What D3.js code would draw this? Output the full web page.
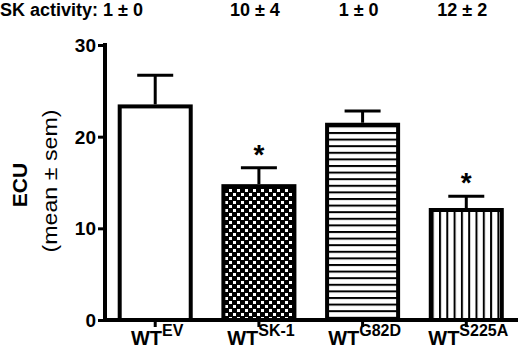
<!DOCTYPE html>
<html><head><meta charset="utf-8">
<script src="https://cdn.jsdelivr.net/npm/d3@7"></script>
<style>body{margin:0;background:#fff}svg{display:block}text{font-family:"Liberation Sans",Arial,sans-serif}</style>
</head><body>
<script>
const groups = ["EV","SK-1","G82D","S225A"];
const means = [23.3, 14.6, 21.3, 12.0];
const sems = [3.4, 2.0, 1.5, 1.5];
const skActivity = ["1 ± 0","10 ± 4","1 ± 0","12 ± 2"];
const significant = [false, true, false, true];
const patterns = ["none","checker","hlines","vlines"];
const yTicks = [0,10,20,30];

const W=520,H=348;
const svg=d3.select("body").append("svg").attr("width",W).attr("height",H);
const defs=svg.append("defs");
const pc=defs.append("pattern").attr("id","checker").attr("patternUnits","userSpaceOnUse").attr("width",8).attr("height",8);
pc.append("rect").attr("width",8).attr("height",8).attr("fill","#000");
pc.append("rect").attr("x",1).attr("y",1).attr("width",3).attr("height",3).attr("fill","#fff");
pc.append("rect").attr("x",5).attr("y",5).attr("width",3).attr("height",3).attr("fill","#fff");
const ph=defs.append("pattern").attr("id","hlines").attr("patternUnits","userSpaceOnUse").attr("width",8).attr("height",6.6);
ph.append("rect").attr("width",8).attr("height",6.6).attr("fill","#fff");
ph.append("rect").attr("y",0).attr("width",8).attr("height",2).attr("fill","#000");
const pv=defs.append("pattern").attr("id","vlines").attr("patternUnits","userSpaceOnUse").attr("width",7.3).attr("height",8).attr("x",1);
pv.append("rect").attr("width",7.3).attr("height",8).attr("fill","#fff");
pv.append("rect").attr("x",0).attr("width",2).attr("height",8).attr("fill","#000");

const y=d3.scaleLinear().domain([0,30]).range([320,45]);
const x=d3.scaleBand().domain(groups).range([100,521.5]).paddingInner(0.315).paddingOuter(0.19);

const g=svg.append("g");
groups.forEach((k,i)=>{
  const x0=x(k), bw=x.bandwidth(), cx=x0+bw/2;
  g.append("rect").attr("x",x0).attr("y",y(means[i])).attr("width",bw).attr("height",y(0)-y(means[i]))
   .attr("fill",patterns[i]==="none"?"#fff":`url(#${patterns[i]})`).attr("stroke","#000").attr("stroke-width",4);
  const top=y(means[i]+sems[i]);
  g.append("line").attr("x1",cx).attr("x2",cx).attr("y1",y(means[i])-2).attr("y2",top).attr("stroke","#000").attr("stroke-width",3);
  g.append("line").attr("x1",cx-18).attr("x2",cx+18).attr("y1",top).attr("y2",top).attr("stroke","#000").attr("stroke-width",3);
  if(significant[i]) g.append("text").attr("x",cx).attr("y",top-4).attr("text-anchor","middle")
     .attr("font-size",28).attr("font-weight","bold").text("*");
});

const ya=svg.append("g").attr("transform","translate(105,0)").call(d3.axisLeft(y).tickValues(yTicks).tickSize(7).tickPadding(2));
ya.select(".domain").attr("stroke-width",4).attr("d",`M0,${y(30)-2}V${y(0)+2}`);
ya.selectAll(".tick line").attr("stroke-width",3);
ya.selectAll(".tick text").attr("font-size",19).attr("font-weight","bold").attr("font-family","Liberation Sans, Arial").attr("fill","#000").attr("dy","0.35em");

const xa=svg.append("g").attr("transform","translate(0,320)").call(d3.axisBottom(x).tickSize(7).tickFormat(""));
xa.select(".domain").attr("stroke-width",4).attr("d","M103,0H518");
xa.selectAll(".tick line").attr("stroke-width",3);
groups.forEach((k,i)=>{
  const t=svg.append("text").attr("x",x(k)+x.bandwidth()/2+2).attr("y",345).attr("text-anchor","middle").attr("font-weight","bold");
  t.append("tspan").attr("font-size",20).text("WT");
  t.append("tspan").attr("font-size",16).attr("dy",-9).text(k);
});

svg.append("text").attr("x",0).attr("y",16).attr("font-size",18).attr("font-weight","bold").text("SK activity: "+skActivity[0]);
groups.forEach((k,i)=>{ if(i>0) svg.append("text").attr("x",x(k)+x.bandwidth()/2-4).attr("y",16).attr("text-anchor","middle")
  .attr("font-size",18).attr("font-weight","bold").text(skActivity[i]); });

svg.append("text").attr("transform","translate(27,185) rotate(-90)").attr("text-anchor","middle").attr("font-size",21).attr("font-weight","bold").text("ECU");
svg.append("text").attr("transform","translate(57,181) rotate(-90)").attr("text-anchor","middle").attr("font-size",20)
  .attr("textLength",143).attr("lengthAdjust","spacingAndGlyphs").text("(mean ± sem)");
</script>
</body></html>
